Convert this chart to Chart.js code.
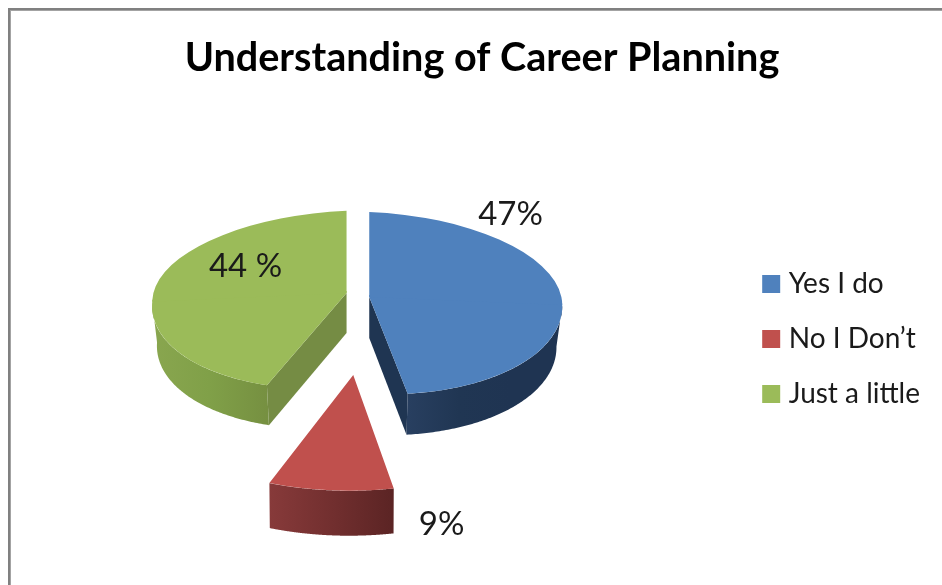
<!DOCTYPE html>
<html><head><meta charset="utf-8">
<style>html,body{margin:0;padding:0;background:#fff;overflow:hidden}
#w{width:942px;height:585px;position:relative}
canvas{filter:blur(0.5px)}</style>
<script src="https://cdn.jsdelivr.net/npm/chart.js@4/dist/chart.umd.min.js"></script>
</head><body><div id="w"><canvas id="c" width="942" height="585"></canvas></div>
<script>
const titleText = 'Understanding of Career Planning';
const categories = ['Yes I do', 'No I Don\u2019t', 'Just a little'];
const shares = [47, 9, 44];
const shareLabels = ['47%', '9%', '44 %'];
const topColors = ['#4f81bd', '#c0504d', '#9bbb59'];

// Look of the 3D view, one entry per slice: shift from pie centre, affine view of the
// unit disc above and below the slice apex, wall depth and shading, label placement.
const look = [
  {dx:-18.1, dy:-42, up:[193,0,8,85], low:[193,2.3,8,96.9], depth:41, shrink:.97,
   wall:['#283f60','#203653','#1f3452','#1f3452'], cut:'end', cutColor:'#1f3552', lx:123.2, ly:-124.5},
  {dx:-34.1, dy:36, up:[224,-1.5,-1.4,115.7], low:[224,-1.5,-1.4,115.7], depth:45, shrink:.995,
   wall:['#873a3a','#722f2f','#5b2424'], cut:null, lx:54.2, ly:185.5},
  {dx:-40.8, dy:-46, up:[194.3,0,-8.7,82.3], low:[194.3,-8.7,-8.7,95.7], depth:40, shrink:.975,
   wall:['#89a64f','#80a048','#769041'], cut:'start', cutColor:'#758c44', lx:-141.8, ly:-72.5}
];
const drawOrder = [2, 0, 1];

const pie3d = {
  id: 'pie3d',
  beforeDraw(chart) {
    const {ctx, width} = chart;
    ctx.save();
    ctx.fillStyle = '#fff'; ctx.fillRect(0, 0, width, chart.height);
    ctx.fillStyle = '#a3a3a3';
    ctx.fillRect(10, 10, width - 10, 1); ctx.fillRect(10, 10, 1, chart.height - 10);
    ctx.fillStyle = '#808080';
    ctx.fillRect(8, 8, width - 8, 2); ctx.fillRect(8, 8, 2, chart.height - 8);
    ctx.restore();
  },
  beforeDatasetDraw(chart, args) {
    const {ctx} = chart;
    const arcs = args.meta.data;
    drawOrder.forEach(i => {
      const el = arcs[i], s = look[i], R = el.outerRadius;
      const ax = el.x + s.dx, ay = el.y + s.dy;
      const map = (ang) => {
        const u = Math.cos(ang), v = Math.sin(ang);
        const m = v < 0 ? s.up : s.low;
        return [m[0]*u + m[1]*v, m[2]*u + m[3]*v];
      };
      const under = p => [ax + p[0]*s.shrink, ay + p[1] + s.depth];
      const over = p => [ax + p[0], ay + p[1]];
      // cut face
      if (s.cut) {
        const p = map(s.cut === 'end' ? el.endAngle : el.startAngle);
        ctx.beginPath();
        ctx.moveTo(ax, ay); ctx.lineTo(...over(p)); ctx.lineTo(...under(p)); ctx.lineTo(ax, ay + s.depth);
        ctx.closePath(); ctx.fillStyle = s.cutColor; ctx.fill();
      }
      // outer wall
      const pts = [];
      for (let k = 0; k <= 240; k++) {
        const a = el.startAngle + (el.endAngle - el.startAngle) * k / 240;
        if (Math.sin(a) >= 0) pts.push(map(a));
      }
      const xs = pts.map(p => ax + p[0]);
      const g = ctx.createLinearGradient(Math.min(...xs), 0, Math.max(...xs), 0);
      s.wall.forEach((c, j) => g.addColorStop(j / (s.wall.length - 1), c));
      ctx.beginPath();
      pts.forEach((p, j) => { const q = over(p); j ? ctx.lineTo(...q) : ctx.moveTo(...q); });
      pts.slice().reverse().forEach(p => ctx.lineTo(...under(p)));
      ctx.closePath(); ctx.fillStyle = g; ctx.fill();
      // top face: the library's arc element, viewed in two overlapping halves
      [[s.low, el.y - 4, 2*R + 4], [s.up, el.y - 2*R, 2*R]].forEach(([m, cy, ch]) => {
        ctx.save();
        ctx.translate(ax, ay);
        ctx.transform(m[0]/R, m[2]/R, m[1]/R, m[3]/R, 0, 0);
        ctx.translate(-el.x, -el.y);
        ctx.beginPath(); ctx.rect(el.x - 2*R, cy, 4*R, ch); ctx.clip();
        el.draw(ctx);
        ctx.restore();
      });
    });
    return false;
  },
  afterDatasetsDraw(chart) {
    const {ctx} = chart;
    const arcs = chart.getDatasetMeta(0).data;
    ctx.save();
    ctx.font = '33px Lato'; ctx.fillStyle = '#1a1a1a';
    ctx.textAlign = 'center'; ctx.textBaseline = 'middle';
    shareLabels.forEach((t, i) => ctx.fillText(t, arcs[i].x + look[i].lx, arcs[i].y + look[i].ly));
    ctx.restore();
  }
};

new Chart(document.getElementById('c'), {
  type: 'pie',
  plugins: [pie3d],
  data: {labels: categories, datasets: [{data: shares, backgroundColor: topColors, borderWidth: 0}]},
  options: {
    responsive: false, animation: false, radius: 194, rotation: 0,
    layout: {padding: {left: 34, right: 12, top: 0, bottom: 0}},
    plugins: {
      tooltip: {enabled: false},
      title: {display: true, text: titleText, color: '#000',
        font: {family: 'Lato', size: 39.6, weight: 'bold', lineHeight: 1.2},
        padding: {top: 34.7, bottom: 10.8}},
      legend: {position: 'right', fullSize: false,
        labels: {usePointStyle: true, pointStyle: 'rect', boxWidth: 7, boxHeight: 18, padding: 27,
          color: '#1a1a1a', font: {family: 'Lato', size: 28}}}
    }
  }
});
</script></body></html>
